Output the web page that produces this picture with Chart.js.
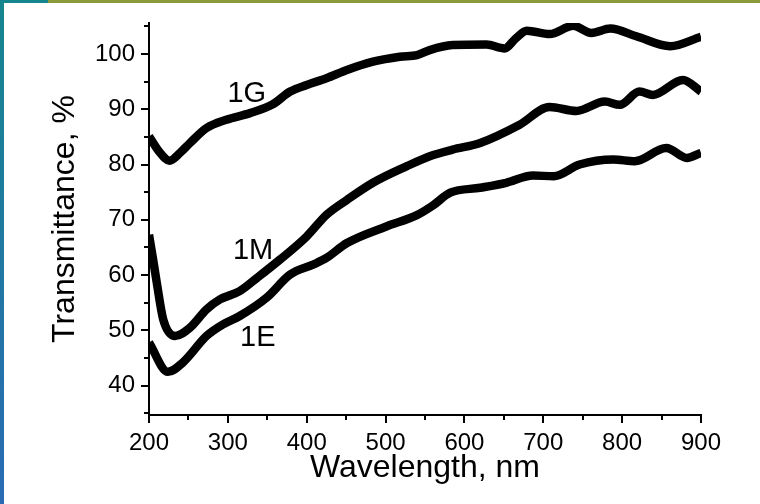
<!DOCTYPE html>
<html>
<head>
<meta charset="utf-8">
<script src="https://cdn.jsdelivr.net/npm/chart.js@4.4.1/dist/chart.umd.min.js"></script>
<style>
  html, body { margin: 0; padding: 0; background: #fff; }
  #wrap { position: relative; width: 760px; height: 504px; overflow: hidden; }
  #edge-left { position: absolute; left: 0; top: 0; width: 4px; height: 504px;
    background: linear-gradient(#16868e, #2a6bb4); }
  #edge-top { position: absolute; left: 48px; top: 0; width: 712px; height: 3px; background: #8b9a3a; }
  #edge-top-left { position: absolute; left: 0; top: 0; width: 48px; height: 3px; background: #16868e; }
</style>
</head>
<body>
<div id="wrap">
  <canvas id="chart" width="760" height="504"></canvas>
  <div id="edge-left"></div>
  <div id="edge-top-left"></div>
  <div id="edge-top"></div>
</div>
<script>
// wavelength (nm) / transmittance (%)
const wl1G = [200, 212, 226, 240, 252, 273, 298, 328, 357, 379, 400, 425, 451, 484, 518, 540, 556, 585, 628, 651, 665, 679, 708, 738, 761, 785, 818, 861, 900];
const t1G  = [85.1, 82.5, 80.7, 82.2, 83.9, 86.6, 88.1, 89.3, 90.9, 93.2, 94.4, 95.6, 97.1, 98.6, 99.5, 99.8, 100.7, 101.6, 101.7, 101.0, 102.8, 104.2, 103.6, 105.1, 103.8, 104.6, 103.2, 101.4, 103.1];

const wl1M = [200, 205, 210, 218, 233, 252, 273, 290, 315, 337, 366, 400, 425, 451, 484, 527, 556, 585, 620, 670, 708, 742, 778, 797, 822, 839, 877, 900];
const t1M  = [67.3, 63.0, 58.5, 52.0, 49.0, 50.5, 53.8, 55.6, 57.1, 59.5, 62.8, 67.0, 70.9, 73.6, 76.7, 79.7, 81.5, 82.7, 83.9, 87.2, 90.4, 89.7, 91.4, 90.8, 93.2, 92.6, 95.3, 93.2];

const wl1E = [200, 224, 243, 273, 294, 315, 349, 379, 408, 425, 451, 501, 539, 560, 582, 620, 653, 687, 713, 746, 789, 816, 856, 882, 900];
const t1E  = [47.8, 42.5, 44.2, 49.0, 51.1, 52.6, 55.9, 60.1, 61.9, 63.1, 65.8, 68.8, 70.8, 72.6, 74.9, 75.8, 76.7, 78.0, 77.9, 80.0, 80.9, 80.6, 83.0, 81.2, 82.1];

const seriesNames = ["1G", "1M", "1E"];
const xMajor = [200, 300, 400, 500, 600, 700, 800, 900];
const xMinor = [250, 350, 450, 550, 650, 750, 850];
const yMajor = [40, 50, 60, 70, 80, 90, 100];
const yMinor = [35, 45, 55, 65, 75, 85, 95, 105];

// where the curve names sit, in data units
const nameAnchors = [
  { text: "1G", x: 324, y: 92.8 },
  { text: "1M", x: 332, y: 64.4 },
  { text: "1E", x: 338, y: 48.7 }
];

const FONT = "'Liberation Sans', Arial, sans-serif";

function pts(xs, ys) {
  return xs.map((x, i) => ({ x: x, y: ys[i] }));
}

function lineSet(label, xs, ys) {
  return {
    label: label,
    data: pts(xs, ys),
    borderColor: "#000",
    borderWidth: 8.5,
    pointRadius: 0,
    fill: false,
    cubicInterpolationMode: "monotone",
    borderCapStyle: "butt",
    borderJoinStyle: "round"
  };
}

// short/long outward ticks and curve names, placed through the scales
const tickPlugin = {
  id: "ticks",
  afterDraw(chart) {
    const ctx = chart.ctx;
    const xs = chart.scales.x;
    const ys = chart.scales.y;
    const area = chart.chartArea;
    ctx.save();
    ctx.strokeStyle = "#000";
    ctx.lineWidth = 2;
    ctx.beginPath();
    xMajor.forEach(v => {
      const p = Math.round(xs.getPixelForValue(v));
      ctx.moveTo(p, area.bottom); ctx.lineTo(p, area.bottom + 8);
    });
    xMinor.forEach(v => {
      const p = Math.round(xs.getPixelForValue(v));
      ctx.moveTo(p, area.bottom); ctx.lineTo(p, area.bottom + 5);
    });
    yMajor.forEach(v => {
      const p = Math.round(ys.getPixelForValue(v));
      ctx.moveTo(area.left, p); ctx.lineTo(area.left - 8, p);
    });
    yMinor.forEach(v => {
      const p = Math.round(ys.getPixelForValue(v));
      ctx.moveTo(area.left, p); ctx.lineTo(area.left - 5, p);
    });
    ctx.stroke();

    ctx.fillStyle = "#000";
    ctx.font = "29px " + FONT;
    ctx.textAlign = "center";
    ctx.textBaseline = "middle";
    nameAnchors.forEach(a => {
      ctx.fillText(a.text, xs.getPixelForValue(a.x), ys.getPixelForValue(a.y));
    });
    ctx.restore();
  }
};

new Chart(document.getElementById("chart"), {
  type: "line",
  data: {
    datasets: [
      lineSet(seriesNames[0], wl1G, t1G),
      lineSet(seriesNames[1], wl1M, t1M),
      lineSet(seriesNames[2], wl1E, t1E)
    ]
  },
  options: {
    responsive: false,
    animation: false,
    layout: { padding: { left: 0, right: 59, top: 23, bottom: 0 } },
    plugins: { legend: { display: false }, tooltip: { enabled: false } },
    scales: {
      x: {
        type: "linear",
        min: 200,
        max: 900,
        afterBuildTicks: s => { s.ticks = xMajor.map(v => ({ value: v })); },
        afterFit: s => { s.height = 89; s.paddingLeft = 0; s.paddingRight = 0; },
        grid: { display: false, drawTicks: false },
        border: { display: true, color: "#000", width: 2 },
        ticks: { color: "#000", padding: 14, font: { family: FONT, size: 24 }, maxRotation: 0 },
        title: { display: true, text: "Wavelength, nm", color: "#000", font: { family: FONT, size: 32 }, padding: { top: 0, bottom: 17 } }
      },
      y: {
        min: 34.7,
        max: 105.6,
        afterBuildTicks: s => { s.ticks = yMajor.map(v => ({ value: v })); },
        afterFit: s => { s.width = 149; s.paddingTop = 0; s.paddingBottom = 0; },
        grid: { display: false, drawTicks: false },
        border: { display: true, color: "#000", width: 2 },
        ticks: { color: "#000", padding: 14, font: { family: FONT, size: 24 } },
        title: { display: true, text: "Transmittance, %", color: "#000", font: { family: FONT, size: 32 }, padding: { top: 46, bottom: 0 } }
      }
    }
  },
  plugins: [tickPlugin]
});
</script>
</body>
</html>
